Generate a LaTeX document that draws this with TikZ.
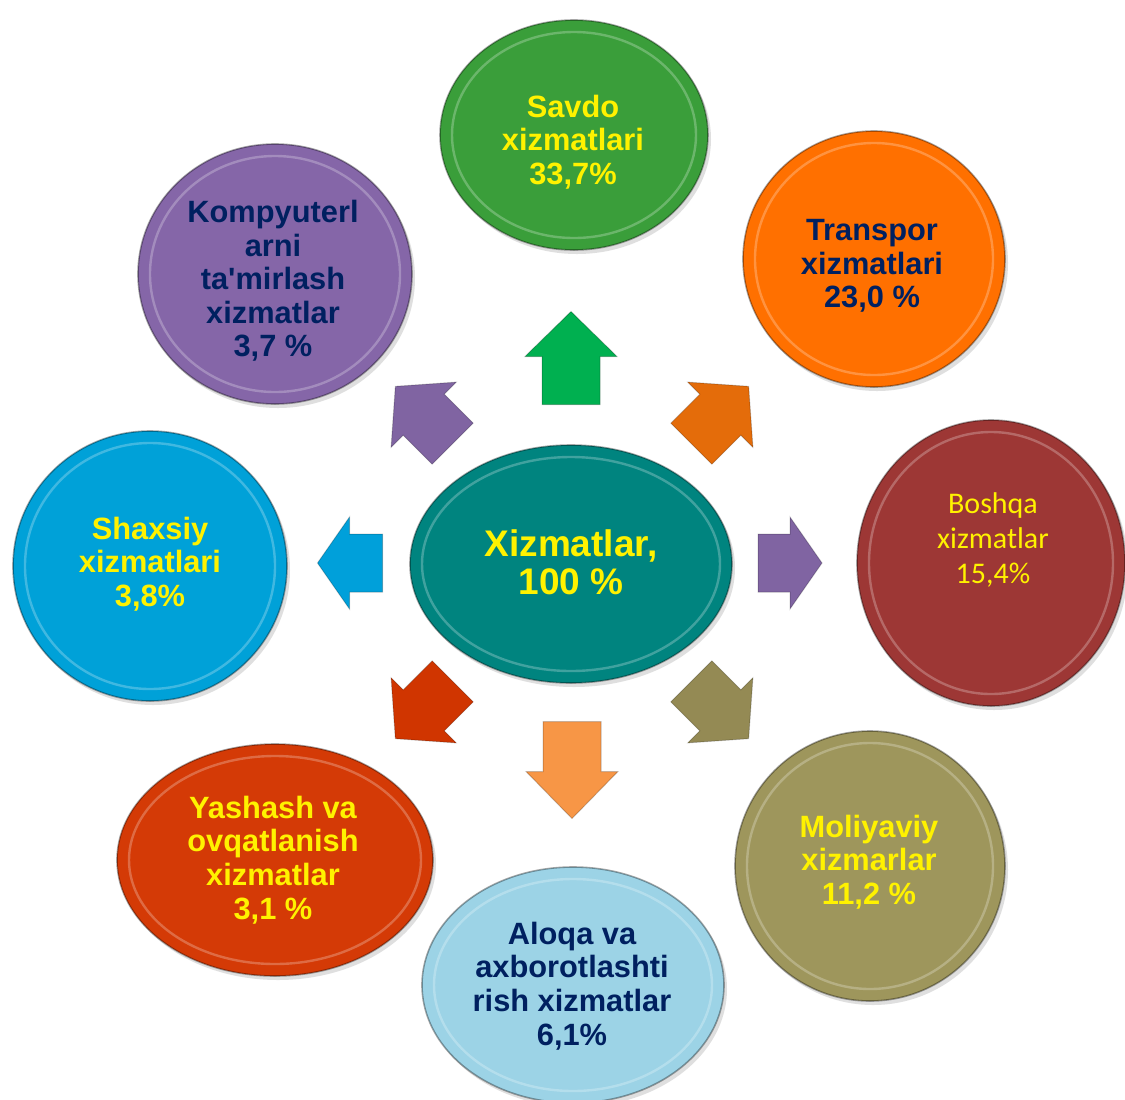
\documentclass[tikz,border=0pt]{standalone}
\usepackage{fontspec}
\setmainfont{Liberation Sans}
\newfontfamily\calibri{Carlito}
\usetikzlibrary{shapes.geometric}
\usetikzlibrary{shadows}
\usetikzlibrary{calc}

\definecolor{hubc}{HTML}{00847F}
\definecolor{savdo}{HTML}{3A9E3A}
\definecolor{transp}{HTML}{FF7000}
\definecolor{boshqa}{HTML}{9D3735}
\definecolor{moliya}{HTML}{9E965C}
\definecolor{aloqa}{HTML}{9CD3E6}
\definecolor{yashash}{HTML}{D43A06}
\definecolor{shaxsiy}{HTML}{00A1D8}
\definecolor{kompyut}{HTML}{8566A8}
\definecolor{arrgreen}{HTML}{00B050}
\definecolor{arrorange}{HTML}{E46C0A}
\definecolor{arrpurple}{HTML}{8064A2}
\definecolor{arrolive}{HTML}{948A54}
\definecolor{arrpeach}{HTML}{F79646}
\definecolor{arrred}{HTML}{D03500}
\definecolor{arrblue}{HTML}{00A0DA}
\definecolor{navy}{HTML}{002060}

\begin{document}
\begin{tikzpicture}[x=0.5pt, y=-0.5pt, align=center]
\tikzstyle{disc} = [ellipse, inner sep=0pt, draw=black, draw opacity=0.35, line width=0.8pt,
  drop shadow={shadow xshift=1.5pt, shadow yshift=-2pt, opacity=0.25},
  path picture={\draw[white, opacity=0.25, line width=1.2pt]
    let \p1=(path picture bounding box.north east), \p2=(path picture bounding box.center)
    in (\p2) ellipse [x radius=\x1-\x2-6pt, y radius=\y1-\y2-6pt];}]
\tikzstyle{big} = [font=\bfseries\fontsize{15.4}{16.8}\selectfont]
\tikzstyle{hub} = [font=\bfseries\fontsize{18.5}{19.2}\selectfont]
\tikzstyle{thin} = [font=\calibri\fontsize{15}{17.5}\selectfont]
\tikzset{pics/blockarrow/.style n args={3}{code={
  \fill[#3, draw=black, draw opacity=0.2, line width=0.5pt]
    ({-#1/2},-29) -- ({#1/2-#2},-29) -- ({#1/2-#2},-46) -- ({#1/2},0)
    -- ({#1/2-#2},46) -- ({#1/2-#2},29) -- ({-#1/2},29) -- cycle;}}}

\path[use as bounding box, fill=white] (0,0) rectangle (1125,1099);

% centre and the eight services
\node[disc, fill=hubc, minimum width=161pt, minimum height=119pt] (hub) at (571,564) {};
\node[disc, fill=savdo, minimum width=134pt, minimum height=115pt] (savdo) at (574,135) {};
\node[disc, fill=transp, minimum width=131pt, minimum height=128pt] (transp) at (874,259) {};
\node[disc, fill=boshqa, minimum width=134pt, minimum height=143pt] (boshqa) at (991,563) {};
\node[disc, fill=moliya, minimum width=135pt, minimum height=135pt] (moliya) at (870,866) {};
\node[disc, fill=aloqa, minimum width=151pt, minimum height=118pt] (aloqa) at (573,985) {};
\node[disc, fill=yashash, minimum width=158pt, minimum height=116pt] (yashash) at (275,860) {};
\node[disc, fill=shaxsiy, minimum width=137pt, minimum height=135pt] (shaxsiy) at (150,566) {};
\node[disc, fill=kompyut, minimum width=137pt, minimum height=130pt] (kompyut) at (275,274) {};

% their texts
\node[hub, text=yellow] (hubT) at (571,562) {Xizmatlar,\\100 \%};
\node[big, text=yellow] (savdoT) at (573,142) {Savdo\\xizmatlari\\33,7\%};
\node[big, text=navy] (transpT) at (872,266) {Transpor\\xizmatlari\\23,0 \%};
\node[thin, text=yellow] (boshqaT) at (993,540) {Boshqa\\xizmatlar\\15,4\%};
\node[big, text=yellow] (moliyaT) at (869,862) {Moliyaviy\\xizmarlar\\11,2 \%};
\node[big, text=navy] (aloqaT) at (572,986) {Aloqa va\\axborotlashti\\rish xizmatlar\\6,1\%};
\node[big, text=yellow] (yashashT) at (273,860) {Yashash va\\ovqatlanish\\xizmatlar\\3,1 \%};
\node[big, text=yellow] (shaxsiyT) at (150,564) {Shaxsiy\\xizmatlari\\3,8\%};
\node[big, text=navy] (kompyutT) at (273,281) {Kompyuterl\\arni\\ta\textquotesingle mirlash\\xizmatlar\\3,7 \%};

% block arrows round the centre
\pic[rotate=90] (aUp) at (571,358) {blockarrow={93}{45}{arrgreen}};
\pic[rotate=45] (aUR) at (720,415) {blockarrow={81}{40}{arrorange}};
\pic[rotate=0] (aR) at (790,563) {blockarrow={64}{32}{arrpurple}};
\pic[rotate=-45] (aDR) at (720,710) {blockarrow={81}{40}{arrolive}};
\pic[rotate=-90] (aD) at (572,770) {blockarrow={97}{47}{arrpeach}};
\pic[rotate=-135] (aDL) at (424,710) {blockarrow={81}{40}{arrred}};
\pic[rotate=180] (aL) at (350,563) {blockarrow={65}{32}{arrblue}};
\pic[rotate=135] (aUL) at (424,415) {blockarrow={81}{40}{arrpurple}};
\end{tikzpicture}
\end{document}
